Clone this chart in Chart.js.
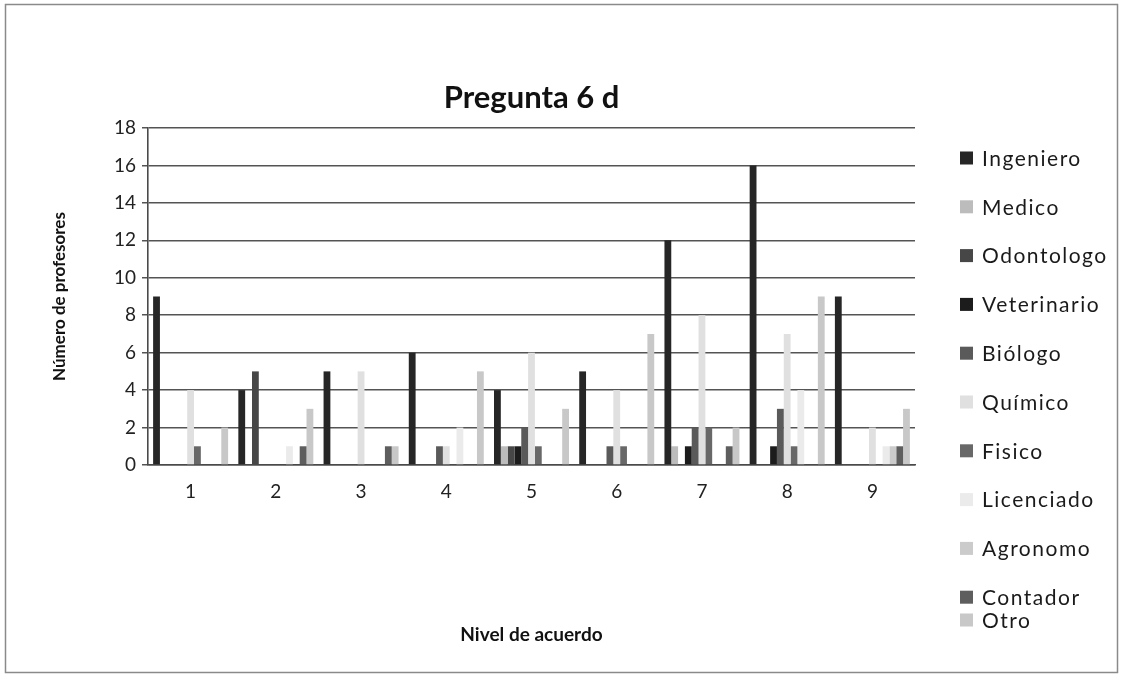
<!DOCTYPE html>
<html>
<head>
<meta charset="utf-8">
<script src="https://cdn.jsdelivr.net/npm/chart.js@4.4.1/dist/chart.umd.min.js"></script>
<style>
  html, body { margin: 0; padding: 0; background: #ffffff; }
  #wrap { width: 1123px; height: 697px; }
</style>
</head>
<body>
<div id="wrap"><canvas id="c" width="1123" height="697"></canvas></div>
<script>
// Survey levels (x categories)
const niveles = ['1', '2', '3', '4', '5', '6', '7', '8', '9'];

// Number of teachers per profession at each agreement level
const ingeniero   = [9, 4, 5, 6, 4, 5, 12, 16, 9];
const medico      = [0, 0, 0, 0, 1, 0, 1, 0, 0];
const odontologo  = [0, 5, 0, 0, 1, 0, 0, 0, 0];
const veterinario = [0, 0, 0, 0, 1, 0, 1, 1, 0];
const biologo     = [0, 0, 0, 1, 2, 1, 2, 3, 0];
const quimico     = [4, 0, 5, 1, 6, 4, 8, 7, 2];
const fisico      = [1, 0, 0, 0, 1, 1, 2, 1, 0];
const licenciado  = [0, 1, 0, 2, 0, 0, 0, 4, 1];
const agronomo    = [0, 0, 0, 0, 0, 0, 0, 0, 1];
const contador    = [0, 1, 1, 0, 0, 0, 1, 0, 1];
const otro        = [2, 3, 1, 5, 3, 7, 2, 9, 3];

const seriesNames = ['Ingeniero', 'Medico', 'Odontologo', 'Veterinario', 'Biólogo',
  'Químico', 'Fisico', 'Licenciado', 'Agronomo', 'Contador', 'Otro'];
const seriesValues = [ingeniero, medico, odontologo, veterinario, biologo,
  quimico, fisico, licenciado, agronomo, contador, otro];
const seriesColors = ['#262626', '#bcbcbc', '#474747', '#1c1c1c', '#5a5a5a',
  '#e0e0e0', '#686868', '#ebebeb', '#cbcbcb', '#5e5e5e', '#c8c8c8'];

const FONT = 'Lato, "Open Sans", "DejaVu Sans", sans-serif';

// White page with a thin frame around the chart object
const framePlugin = {
  id: 'frame',
  beforeDraw(chart) {
    const ctx = chart.ctx;
    ctx.save();
    ctx.fillStyle = '#ffffff';
    ctx.fillRect(0, 0, chart.width, chart.height);
    ctx.strokeStyle = '#8a8a8a';
    ctx.lineWidth = 1.5;
    ctx.strokeRect(5.5, 4.5, chart.width - 11, 668);
    ctx.restore();
  }
};

// Vertical legend on the right-hand side
const sideLegend = {
  id: 'sideLegend',
  afterDraw(chart) {
    const ctx = chart.ctx;
    ctx.save();
    ctx.font = '21px ' + FONT;
    ctx.letterSpacing = '1.5px';
    ctx.textBaseline = 'middle';
    ctx.textAlign = 'left';
    chart.data.datasets.forEach((ds, i) => {
      const y = i < 10 ? 158 + i * 48.8 : 620;
      ctx.fillStyle = ds.backgroundColor;
      ctx.fillRect(960, y - 6.5, 13, 13);
      ctx.fillStyle = '#1a1a1a';
      ctx.fillText(ds.label, 982, y + 1);
    });
    ctx.restore();
  }
};

const datasets = seriesNames.map((name, i) => ({
  label: name,
  data: seriesValues[i],
  backgroundColor: seriesColors[i],
  borderWidth: 0,
  barPercentage: 1.0,
  categoryPercentage: 0.88
}));

new Chart(document.getElementById('c'), {
  type: 'bar',
  data: { labels: niveles, datasets },
  options: {
    responsive: false,
    animation: false,
    layout: { padding: { top: 0, left: 0, right: 208, bottom: 0 } },
    plugins: {
      legend: { display: false },
      tooltip: { enabled: false },
      title: {
        display: true,
        fullSize: false,
        text: 'Pregunta 6 d',
        color: '#111111',
        font: { family: FONT, size: 31, weight: 'bold', lineHeight: 1.2 },
        padding: { top: 79.4, bottom: 11.4 }
      }
    },
    scales: {
      x: {
        grid: { display: false },
        border: { display: true, color: '#4a4a4a', width: 1.6 },
        ticks: { color: '#222222', padding: 7, font: { family: FONT, size: 19 } },
        title: {
          display: true,
          text: 'Nivel de acuerdo',
          color: '#111111',
          font: { family: FONT, size: 19, weight: 'bold', lineHeight: 1.2 },
          padding: { top: 0, bottom: 51 }
        },
        afterFit(scale) { scale.height = 232; }
      },
      y: {
        min: 0,
        max: 18,
        ticks: { stepSize: 2, color: '#222222', padding: 6, font: { family: FONT, size: 19 } },
        grid: { color: '#545454', lineWidth: 1.5, tickLength: 6 },
        border: { display: true, color: '#4a4a4a', width: 1.6 },
        title: {
          display: true,
          text: 'Número de profesores',
          color: '#111111',
          font: { family: FONT, size: 17, weight: 'bold', lineHeight: 1.2 },
          padding: { top: 49.5, bottom: 0 }
        },
        afterFit(scale) { scale.width = 148; }
      }
    }
  },
  plugins: [framePlugin, sideLegend]
});
</script>
</body>
</html>
